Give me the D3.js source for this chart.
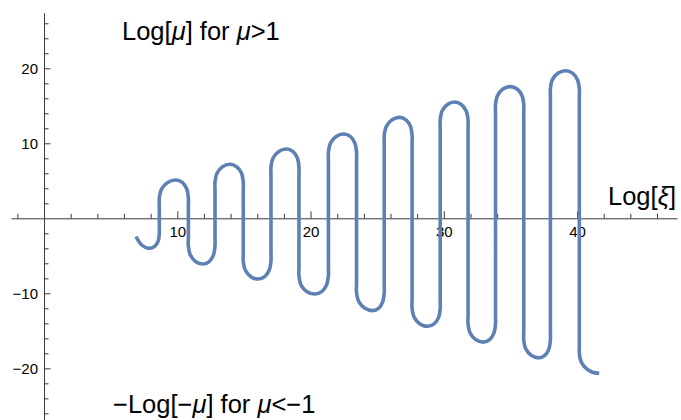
<!DOCTYPE html>
<meta charset="utf-8">
<head>
    <title>Log mu vs Log xi</title>
    <script src="https://d3js.org/d3.v7.min.js"></script>
</head>
<body>
<style>
    body {
        margin: 0;
        background-color: #ffffff;
        font-family: "Liberation Sans", Arial, sans-serif;
    }
    .axis path,
    .axis line {
        fill: none;
        stroke: #3a3a3a;
        stroke-width: 1px;
    }
    .axis text {
        font-family: "Liberation Sans", Arial, sans-serif;
        font-size: 15px;
        fill: #000;
    }
    .curve {
        fill: none;
        stroke: #5E81B5;
        stroke-width: 3.6px;
        stroke-linejoin: round;
        stroke-linecap: butt;
    }
    .lbl {
        font-family: "Liberation Sans", Arial, sans-serif;
        font-size: 25.5px;
        fill: #000;
    }
</style>
<svg width="681" height="420"></svg>
<script>
    // points along the curve (one row per turn)
    var logXi = [
        6.90, 7.33, 7.83, 8.30, 8.57, 8.65, 8.65,
        8.65, 8.65, 8.82, 9.28, 9.90, 10.37, 10.71, 10.83, 10.83,
        10.83, 10.83, 10.98, 11.39, 11.95, 12.39, 12.71, 12.83, 12.83,
        12.83, 12.83, 12.98, 13.39, 13.95, 14.45, 14.82, 14.95, 14.95,
        14.95, 14.95, 15.10, 15.52, 16.08, 16.56, 16.90, 17.03, 17.03,
        17.03, 17.03, 17.19, 17.62, 18.20, 18.67, 19.01, 19.13, 19.13,
        19.13, 19.13, 19.29, 19.73, 20.33, 20.84, 21.20, 21.34, 21.34,
        21.34, 21.34, 21.50, 21.92, 22.50, 22.98, 23.32, 23.45, 23.45,
        23.45, 23.45, 23.62, 24.08, 24.70, 25.12, 25.42, 25.53, 25.53,
        25.53, 25.53, 25.69, 26.12, 26.70, 27.16, 27.50, 27.62, 27.62,
        27.62, 27.62, 27.78, 28.21, 28.80, 29.27, 29.61, 29.73, 29.73,
        29.73, 29.73, 29.87, 30.27, 30.80, 31.31, 31.68, 31.82, 31.82,
        31.82, 31.82, 31.98, 32.41, 33.00, 33.44, 33.76, 33.88, 33.88,
        33.88, 33.88, 34.03, 34.44, 35.00, 35.50, 35.87, 36.00, 36.00,
        36.00, 36.00, 36.15, 36.58, 37.15, 37.58, 37.89, 38.00, 38.00,
        38.00, 38.00, 38.15, 38.58, 39.15, 39.66, 40.03, 40.17, 40.17,
        40.17, 40.17, 40.32, 40.70, 41.15, 41.66
    ];
    var logMu = [
        -2.45, -3.56, -4.00, -3.75, -3.00, -2.00, -0.80,
        1.50, 2.70, 3.90, 4.78, 5.10, 4.78, 3.90, 2.70, 1.50,
        -2.50, -3.70, -4.90, -5.78, -6.10, -5.78, -4.90, -3.70, -2.50,
        3.60, 4.80, 6.00, 6.88, 7.20, 6.88, 6.00, 4.80, 3.60,
        -4.50, -5.70, -6.90, -7.78, -8.10, -7.78, -6.90, -5.70, -4.50,
        5.64, 6.84, 8.04, 8.92, 9.24, 8.92, 8.04, 6.84, 5.64,
        -6.50, -7.70, -8.90, -9.78, -10.10, -9.78, -8.90, -7.70, -6.50,
        7.64, 8.84, 10.04, 10.92, 11.24, 10.92, 10.04, 8.84, 7.64,
        -8.70, -9.90, -11.10, -11.98, -12.30, -11.98, -11.10, -9.90, -8.70,
        9.85, 11.05, 12.25, 13.13, 13.45, 13.13, 12.25, 11.05, 9.85,
        -10.80, -12.00, -13.20, -14.08, -14.40, -14.08, -13.20, -12.00, -10.80,
        11.90, 13.10, 14.30, 15.18, 15.50, 15.18, 14.30, 13.10, 11.90,
        -12.90, -14.10, -15.30, -16.18, -16.50, -16.18, -15.30, -14.10, -12.90,
        13.95, 15.15, 16.35, 17.23, 17.55, 17.23, 16.35, 15.15, 13.95,
        -15.00, -16.20, -17.40, -18.28, -18.60, -18.28, -17.40, -16.20, -15.00,
        16.08, 17.28, 18.48, 19.36, 19.68, 19.36, 18.48, 17.28, 16.08,
        -16.90, -18.00, -19.20, -20.05, -20.52, -20.67
    ];
    var xMajor = [10, 20, 30, 40];
    var xMinor = [-2, 2, 4, 6, 8, 12, 14, 16, 18, 22, 24, 26, 28, 32, 34, 36, 38, 42, 44, 46];
    var yMajor = [-20, -10, 10, 20];
    var yMinor = [-26, -24, -22, -18, -16, -14, -12, -8, -6, -4, -2, 2, 4, 6, 8, 12, 14, 16, 18, 22, 24, 26];

    var svg = d3.select("svg");

    var x = d3.scaleLinear().domain([-2.48, 47.5]).range([11, 677]);
    var y = d3.scaleLinear().domain([-26.89, 27.41]).range([420, 12.7]);

    // x axis: minor ticks, then major ticks with labels (ticks point up)
    svg.append("g")
        .attr("class", "x axis")
        .attr("transform", "translate(0," + y(0) + ")")
        .call(d3.axisBottom(x).tickValues(xMinor).tickSizeInner(-4.5).tickSizeOuter(0).tickFormat(""));
    svg.append("g")
        .attr("class", "x axis")
        .attr("transform", "translate(0," + y(0) + ")")
        .call(d3.axisBottom(x).tickValues(xMajor).tickSizeInner(-7).tickSizeOuter(0).tickPadding(8))
        .select(".domain").remove();

    // y axis (ticks point right)
    svg.append("g")
        .attr("class", "y axis")
        .attr("transform", "translate(" + x(0) + ",0)")
        .call(d3.axisLeft(y).tickValues(yMinor).tickSizeInner(-4.5).tickSizeOuter(0).tickFormat(""));
    svg.append("g")
        .attr("class", "y axis")
        .attr("transform", "translate(" + x(0) + ",0)")
        .call(d3.axisLeft(y).tickValues(yMajor).tickSizeInner(-6.5).tickSizeOuter(0).tickPadding(6))
        .select(".domain").remove();

    var pts = logXi.map(function(d, i) { return [d, logMu[i]]; });
    var line = d3.line()
        .x(function(d) { return x(d[0]); })
        .y(function(d) { return y(d[1]); })
        .curve(d3.curveCatmullRom.alpha(0.5));

    svg.append("path")
        .datum(pts)
        .attr("class", "curve")
        .attr("d", line);

    // labels
    var t1 = svg.append("text").attr("class", "lbl").attr("x", 122).attr("y", 40);
    t1.append("tspan").text("Log[");
    t1.append("tspan").style("font-style", "italic").text("\u03bc");
    t1.append("tspan").text("] for ");
    t1.append("tspan").style("font-style", "italic").text("\u03bc");
    t1.append("tspan").text(">1");

    var t2 = svg.append("text").attr("class", "lbl").attr("x", 113).attr("y", 413);
    t2.append("tspan").text("\u2212Log[\u2212");
    t2.append("tspan").style("font-style", "italic").text("\u03bc");
    t2.append("tspan").text("] for ");
    t2.append("tspan").style("font-style", "italic").text("\u03bc");
    t2.append("tspan").text("<\u22121");

    var t3 = svg.append("text").attr("class", "lbl").attr("x", 608).attr("y", 205);
    t3.append("tspan").text("Log[");
    t3.append("tspan").style("font-style", "italic").text("\u03be");
    t3.append("tspan").text("]");
</script>
</body>
